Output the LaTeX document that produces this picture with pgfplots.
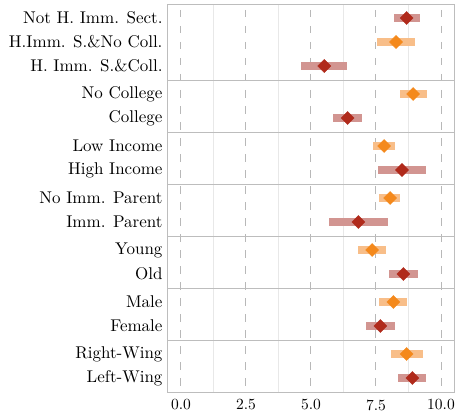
\documentclass[border=0pt]{standalone}
\usepackage{fontspec}
\newfontfamily\lmten{lmroman10-regular}[Extension=.otf]
\usepackage{pgfplots}
\usepackage{pgfplotstable}
\pgfplotsset{compat=1.18}
\definecolor{mred}{HTML}{B02A1B}
\definecolor{bred}{HTML}{D29591}
\definecolor{morange}{HTML}{F4891C}
\definecolor{borange}{HTML}{F8BE89}
\definecolor{framegray}{HTML}{BDBDBD}
\definecolor{dashgray}{HTML}{B8B8B8}
\definecolor{minorgray}{HTML}{E8E8E8}

\pgfplotstableread{
y x lo hi
18 8.68 8.18 9.20
66 5.51 4.61 6.40
118 6.41 5.83 6.96
170 8.50 7.58 9.42
222 6.82 5.70 7.97
274 8.55 8.01 9.10
326 7.67 7.13 8.23
378 8.90 8.36 9.42
}\redtab
\pgfplotstableread{
y x lo hi
42 8.27 7.54 9.01
94 8.93 8.43 9.46
146 7.81 7.38 8.23
198 8.04 7.63 8.43
250 7.35 6.81 7.88
302 8.17 7.63 8.69
354 8.68 8.08 9.29
}\orangetab

\begin{document}
\begin{tikzpicture}
\path[use as bounding box] (-168bp,-24bp) rectangle (290bp,392bp);
\begin{axis}[
  at={(0,0)}, anchor=south west,
  scale only axis, width=286bp, height=387bp,
  xmin=-0.5, xmax=10.5, ymin=5, ymax=392, y dir=reverse,
  yticklabel style={font=\lmten\fontsize{17bp}{19bp}\selectfont},
  xticklabel style={font=\lmten\fontsize{15.5bp}{18bp}\selectfont, /pgf/number format/.cd, fixed, fixed zerofill, precision=1, assume math mode=true},
  axis line style={framegray, line width=1bp},
  xtick={0,2.5,5,7.5,10},
  minor xtick={1.25,3.75,6.25,8.75},
  xmajorgrids, xminorgrids,
  major x grid style={dashgray, line width=1bp, dash pattern=on 7.5bp off 8.5bp, dash phase=-5bp},
  minor x grid style={minorgray, line width=0.8bp},
  ytick={18,42,66,94,118,146,170,198,222,250,274,302,326,354,378},
  yticklabels={Not H. Imm. Sect., H.Imm. S.\&No Coll., H. Imm. S.\&Coll., No College, College, Low Income, High Income, No Imm. Parent, Imm. Parent, Young, Old, Male, Female, Right-Wing, Left-Wing},
  extra y ticks={80,132,184,236,288,340},
  extra y tick labels={},
  extra y tick style={ymajorgrids, major y grid style={framegray, line width=1bp}},
  major tick length=0pt, minor tick length=0pt,
  tick style={draw=none},
  xticklabel shift=4bp,
  yticklabel shift=2bp,
  clip=false,
]
\addplot[draw=none, mark=none, forget plot,
  error bars/.cd, x dir=both, x explicit, error mark=none,
  error bar style={draw=bred, line width=8bp}]
  table[x=x, y=y, x error plus expr=\thisrow{hi}-\thisrow{x}, x error minus expr=\thisrow{x}-\thisrow{lo}] {\redtab};
\addplot[draw=none, mark=none, forget plot,
  error bars/.cd, x dir=both, x explicit, error mark=none,
  error bar style={draw=borange, line width=8bp}]
  table[x=x, y=y, x error plus expr=\thisrow{hi}-\thisrow{x}, x error minus expr=\thisrow{x}-\thisrow{lo}] {\orangetab};
\addplot[only marks, mark=square*, mark size=4.6bp, mark options={rotate=45, fill=mred, draw=mred}] table[x=x, y=y] {\redtab};
\addplot[only marks, mark=square*, mark size=4.6bp, mark options={rotate=45, fill=morange, draw=morange}] table[x=x, y=y] {\orangetab};
\end{axis}
\end{tikzpicture}
\end{document}
